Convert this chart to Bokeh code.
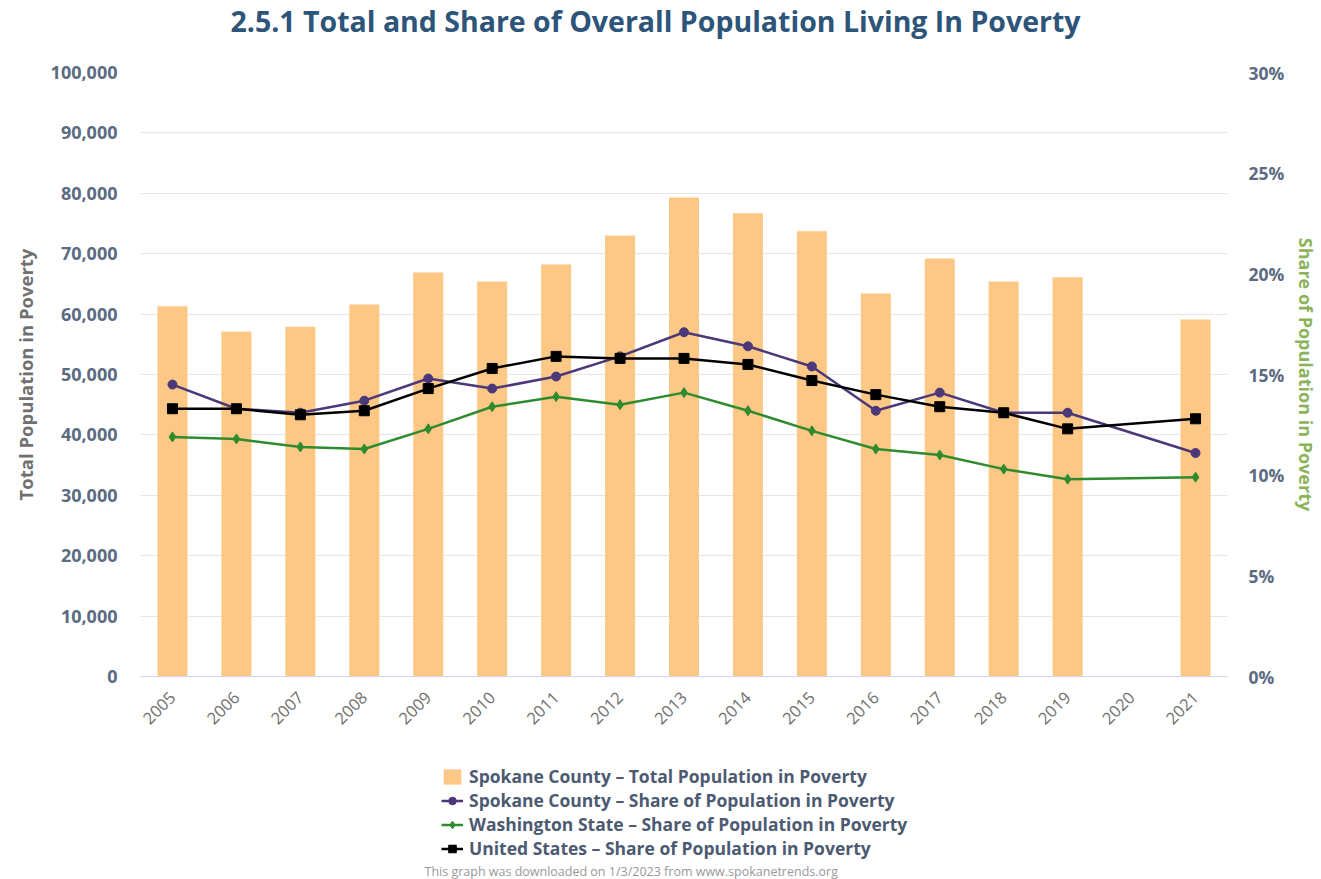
from bokeh.plotting import figure
from bokeh.models import (Range1d, LinearAxis, NumeralTickFormatter, PrintfTickFormatter,
                          SingleIntervalTicker, FactorRange, Legend, LegendItem, Label)
from bokeh.layouts import column
from bokeh.embed import file_html
from bokeh.resources import INLINE
import math

years = [str(y) for y in range(2005, 2022)]
total_pop = [61300, 57100, 57900, 61600, 66900, 65400, 68200, 73000, 79300,
             76700, 73700, 63400, 69200, 65400, 66100, None, 59100]
spokane_share = [14.5, 13.3, 13.1, 13.7, 14.8, 14.3, 14.9, 15.9, 17.1,
                 16.4, 15.4, 13.2, 14.1, 13.1, 13.1, None, 11.1]
washington_share = [11.9, 11.8, 11.4, 11.3, 12.3, 13.4, 13.9, 13.5, 14.1,
                    13.2, 12.2, 11.3, 11.0, 10.3, 9.8, None, 9.9]
us_share = [13.3, 13.3, 13.0, 13.2, 14.3, 15.3, 15.9, 15.8, 15.8,
            15.5, 14.7, 14.0, 13.4, 13.1, 12.3, None, 12.8]

TITLE = "2.5.1 Total and Share of Overall Population Living In Poverty"
FOOTER = "This graph was downloaded on 1/3/2023 from www.spokanetrends.org"
LEGEND_LABELS = ["Spokane County \u2013 Total Population in Poverty",
                 "Spokane County \u2013 Share of Population in Poverty",
                 "Washington State \u2013 Share of Population in Poverty",
                 "United States \u2013 Share of Population in Poverty"]

FONT = "Open Sans"
TICK_COLOR = "#5b6b82"
BAR_COLOR = "#fdc785"
PURPLE = "#4b3878"
GREEN = "#2e8b2e"
BLACK = "#000000"
LEFT, RIGHT = 140, 94


def present(xs, ys):
    pairs = [(x, y) for x, y in zip(xs, ys) if y is not None]
    return [p[0] for p in pairs], [p[1] for p in pairs]


def draw_series(fig, y_name):
    """Bars + three share lines; returns renderers for the legend."""
    bx, by = present(years, total_pop)
    bars = fig.vbar(x=bx, top=by, width=0.47, fill_color=BAR_COLOR, line_color=None)
    out = [[bars]]
    for vals, col, mk, sz in ((spokane_share, PURPLE, "circle", 9),
                              (washington_share, GREEN, "diamond", 10),
                              (us_share, BLACK, "square", 10)):
        xs, ys = present(years, vals)
        ln = fig.line(xs, ys, y_range_name=y_name, line_color=col, line_width=2.5)
        sc = fig.scatter(xs, ys, y_range_name=y_name, marker=mk, size=sz,
                         fill_color=col, line_color=col)
        out.append([ln, sc])
    return out


def strip(height):
    f = figure(width=1321, height=height, x_range=FactorRange(factors=years, range_padding=0),
               y_range=Range1d(1e7, 1e7 + 1), x_axis_type=None, y_axis_type=None,
               min_border_left=LEFT, min_border_right=RIGHT,
               min_border_top=0, min_border_bottom=0,
               output_backend="svg", toolbar_location=None)
    f.outline_line_color = None
    f.xgrid.grid_line_color = None
    f.ygrid.grid_line_color = None
    f.background_fill_color = "white"
    f.border_fill_color = "white"
    return f


# ---- title strip ----
t = strip(56)
t.add_layout(Label(x=90, y=36, x_units="screen", y_units="screen", text=TITLE,
                   text_font=FONT, text_font_size="28.5px", text_font_style="bold",
                   text_color="#2d5479", text_baseline="alphabetic", text_align="left"))

# ---- main chart ----
p = figure(x_range=FactorRange(factors=years, range_padding=0),
           y_range=Range1d(0, 100000),
           frame_width=1087, frame_height=604,
           min_border_left=LEFT, min_border_right=RIGHT,
           min_border_top=16, min_border_bottom=69,
           output_backend="svg", toolbar_location=None)
p.outline_line_color = None
p.background_fill_color = "white"
p.border_fill_color = "white"
p.extra_y_ranges = {"pct": Range1d(0, 30)}
draw_series(p, "pct")

ya = p.yaxis[0]
ya.ticker = SingleIntervalTicker(interval=10000)
ya.formatter = NumeralTickFormatter(format="0,0")
ya.axis_line_color = None
ya.major_tick_line_color = None
ya.minor_tick_line_color = None
ya.major_label_standoff = 17
ya.major_label_text_font = FONT
ya.major_label_text_font_size = "18px"
ya.major_label_text_font_style = "bold"
ya.major_label_text_color = TICK_COLOR
ya.axis_label = "Total Population in Poverty"
ya.axis_label_text_font = FONT
ya.axis_label_text_font_size = "18.5px"
ya.axis_label_text_font_style = "bold"
ya.axis_label_text_color = "#707070"
ya.axis_label_standoff = 10

ra = LinearAxis(y_range_name="pct", ticker=SingleIntervalTicker(interval=5),
                formatter=PrintfTickFormatter(format="%d%%"))
ra.axis_line_color = None
ra.major_tick_line_color = None
ra.minor_tick_line_color = None
ra.major_label_standoff = 15
ra.major_label_text_font = FONT
ra.major_label_text_font_size = "17.5px"
ra.major_label_text_font_style = "bold"
ra.major_label_text_color = TICK_COLOR
ra.axis_label = "Share of Population in Poverty"
ra.axis_label_text_font = FONT
ra.axis_label_text_font_size = "18px"
ra.axis_label_text_font_style = "bold"
ra.axis_label_text_color = "#8ab35a"
ra.axis_label_standoff = 7
p.add_layout(ra, "right")

xa = p.xaxis[0]
xa.axis_line_color = "#ccd6eb"
xa.major_tick_line_color = None
xa.minor_tick_line_color = None
xa.major_label_orientation = math.pi / 4
xa.major_label_standoff = 12
xa.major_label_text_font = FONT
xa.major_label_text_font_size = "16.5px"
xa.major_label_text_color = "#707070"

p.xgrid.grid_line_color = None
p.ygrid.grid_line_color = "#e6e6e6"
p.ygrid.ticker = SingleIntervalTicker(interval=10000)

# ---- legend + footer strip (series drawn outside its visible y-range) ----
q = strip(134)
q.extra_y_ranges = {"pct": Range1d(1e5, 1e5 + 1)}
rends = draw_series(q, "pct")

legend = Legend(items=[LegendItem(label=lab, renderers=r)
                       for lab, r in zip(LEGEND_LABELS, rends)],
                location=(301, 19), orientation="vertical")
legend.border_line_color = None
legend.background_fill_alpha = 0
legend.label_text_font = FONT
legend.label_text_font_size = "17.5px"
legend.label_text_font_style = "bold"
legend.label_text_color = "#4c5a72"
legend.spacing = 0
legend.padding = 0
legend.margin = 0
legend.glyph_width = 22
legend.glyph_height = 19
legend.label_height = 19
legend.label_standoff = 6
q.add_layout(legend, "center")

q.add_layout(Label(x=284, y=8, x_units="screen", y_units="screen", text=FOOTER,
                   text_font=FONT, text_font_size="12.5px", text_font_style="normal",
                   text_color="#999999", text_baseline="alphabetic", text_align="left"))

page = column(t, p, q, spacing=0)
open("out.html", "w").write(file_html(page, INLINE))
